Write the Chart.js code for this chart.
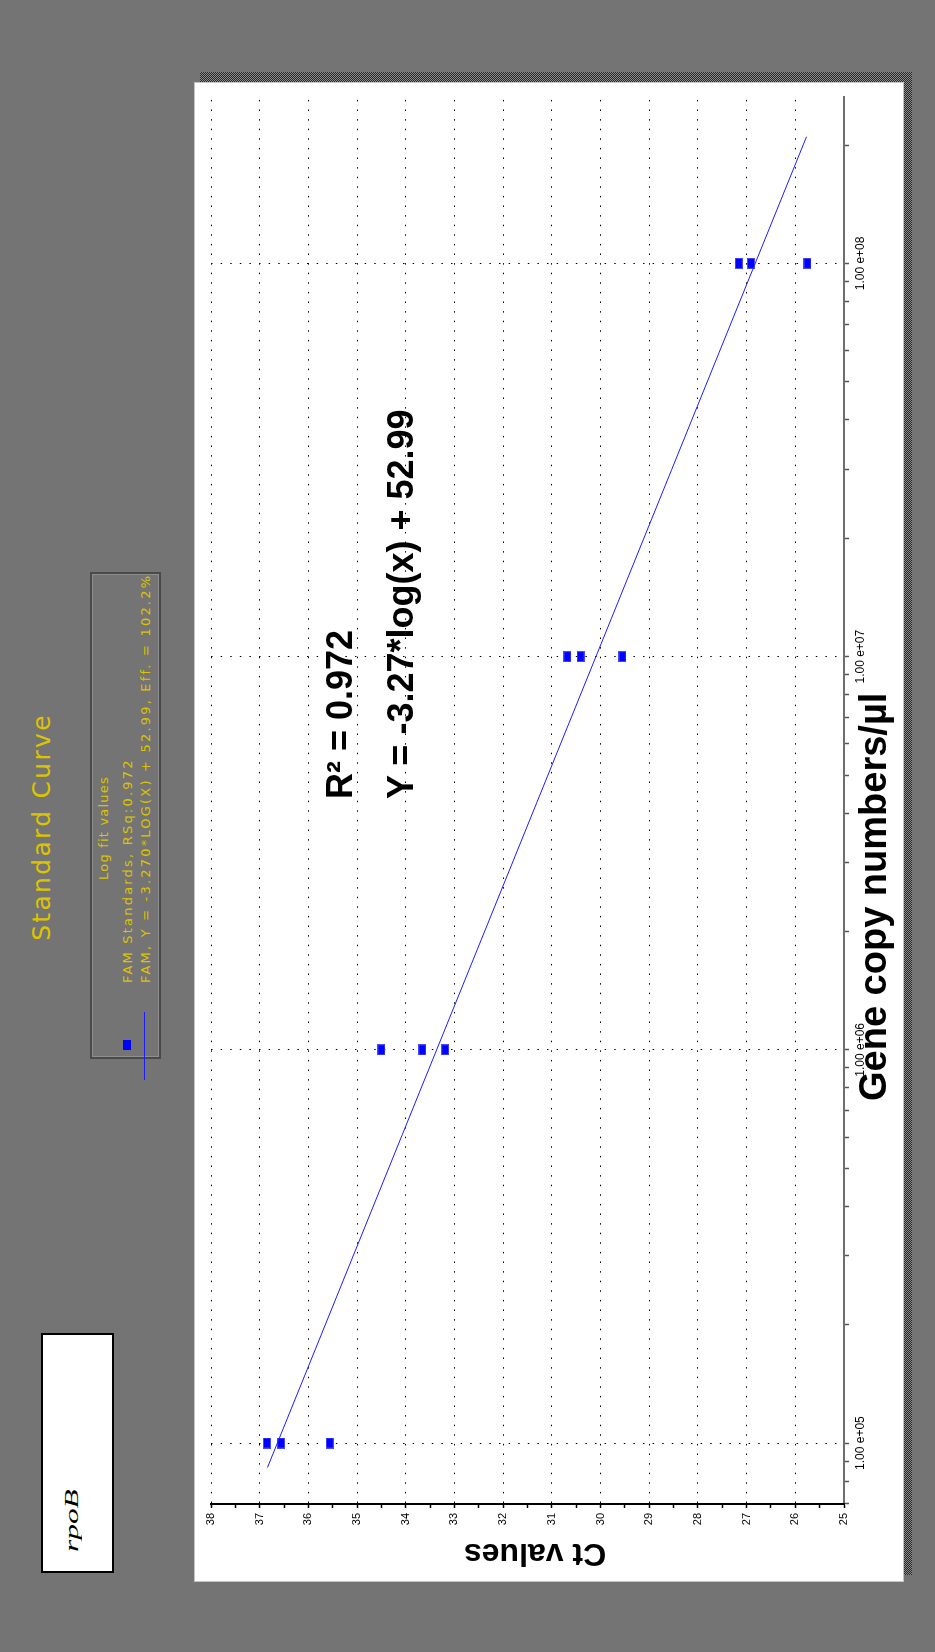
<!DOCTYPE html>
<html>
<head>
<meta charset="utf-8">
<title>Standard Curve - rpoB</title>
<script src="https://cdn.jsdelivr.net/npm/chart.js@4.4.1/dist/chart.umd.min.js"></script>
<style>
    html, body { margin: 0; padding: 0; width: 935px; height: 1652px; overflow: hidden; background: #747474; }
    /* the whole figure is laid out landscape and turned a quarter turn left */
    #stage {
        position: absolute; left: 0; top: 0; width: 1652px; height: 935px;
        transform-origin: 0 0; transform: translate(0px, 1652px) rotate(-90deg);
        background: #747474; font-family: Arial, "Liberation Sans", sans-serif;
    }
    .abs { position: absolute; white-space: nowrap; }
    #shadow { left: 77px; top: 200px; width: 1503px; height: 712px;
        background: repeating-conic-gradient(#262626 0 25%, #8c8c8c 0 50%) 0 0 / 2px 2px; }
    #panel { left: 70px; top: 194px; width: 1500px; height: 710px; background: #fff;
        box-sizing: border-box; border: 1px solid #c4c4c4; }
    #panel canvas { position: absolute; left: -1px; top: -1px; }
    #mainTitle { left: 0; top: 29px; width: 1650px; text-align: center; color: #dcc400;
        font: 25px/25px "DejaVu Sans", sans-serif; letter-spacing: 2.3px; }
    #legendBox { left: 593px; top: 90px; width: 487px; height: 71px; box-sizing: border-box;
        border: 2px solid #4a4a4a; box-shadow: inset 1px 1px 0 #8e8e8e, inset -1px -1px 0 #8e8e8e; }
    .legendText { color: #dcc400; font: 13px/13px "DejaVu Sans", sans-serif; letter-spacing: 2.2px; }
    #geneBox { left: 79px; top: 41px; width: 240px; height: 73px; box-sizing: border-box;
        background: #fff; border: 2px solid #000; }
    #geneName { left: 100px; top: 62px; font: italic 19px/19px "Liberation Serif", "Times New Roman", serif;
        color: #000; transform: scaleX(1.65); transform-origin: 0 50%; }
    .note { color: #000; font: bold 36px/36px Arial, "Liberation Sans", sans-serif; }
    #xTitle { left: 551px; top: 854px; color: #000; font: bold 38px/38px Arial, "Liberation Sans", sans-serif; }
    #yTitle { left: -53px; top: 519px; width: 300px; text-align: center; color: #000;
        font: bold 32px/32px Arial, "Liberation Sans", sans-serif; transform: rotate(-90deg); }
</style>
</head>
<body>
<div id="stage">
    <div id="mainTitle" class="abs">Standard Curve</div>

    <div id="legendBox" class="abs"></div>
    <div class="abs legendText" style="left:724px; top:97px; width:200px; text-align:center; letter-spacing:1.2px;">Log fit values</div>
    <div class="abs" style="left:602px; top:123px; width:10px; height:8px; background:#0000ff;"></div>
    <div class="abs legendText" style="left:669px; top:121px;">FAM Standards, RSq:0.972</div>
    <div class="abs" style="left:572px; top:144px; width:68px; height:1px; background:#1c1cff;"></div>
    <div class="abs legendText" style="left:669px; top:139px;">FAM, Y = -3.270*LOG(X) + 52.99, Eff. = 102.2%</div>

    <div id="geneBox" class="abs"></div>
    <div id="geneName" class="abs">rpoB</div>

    <div id="shadow" class="abs"></div>
    <div id="panel" class="abs">
        <canvas id="curveChart" width="1500" height="710" style="width:1500px;height:710px;"></canvas>
    </div>

    <div class="abs note" style="left:853px; top:322px;">R² = 0.972</div>
    <div class="abs note" style="left:853px; top:383px;">Y = -3.27*log(x) + 52.99</div>
    <div id="xTitle" class="abs">Gene copy numbers/µl</div>
    <div id="yTitle" class="abs">Ct values</div>
</div>

<script>
    // standards: copy number per µl and measured Ct (three replicates each)
    const copyNumbers = [1e5, 1e5, 1e5, 1e6, 1e6, 1e6, 1e7, 1e7, 1e7, 1e8, 1e8, 1e8];
    const ctValues = [36.85, 36.56, 35.56, 34.50, 33.66, 33.19, 30.68, 30.41, 29.55, 27.16, 26.91, 25.75];

    // log fit line end points
    const fitCopies = [8.67e4, 2.1e8];
    const fitCt = [36.84, 25.77];

    // axis ticks
    const copyTicks = [1e5, 1e6, 1e7, 1e8];
    const copyLabels = ["1.00 e+05", "1.00 e+06", "1.00 e+07", "1.00 e+08"];
    const copyMin = 7e4, copyMax = 2.65e8;
    const ctMin = 25, ctMax = 38;

    const isDecade = v => Math.abs(Math.log10(v) - Math.round(Math.log10(v))) < 1e-9;

    // minor log ticks 2..9 within every decade that touches the range
    function logTicks() {
        const out = [];
        [1e4].concat(copyTicks).forEach(d => {
            for (let k = 1; k <= 9; k++) {
                const v = k * d;
                if (v >= copyMin && v <= copyMax) out.push({ value: v });
            }
        });
        return out;
    }

    // rectangular marker like the instrument software draws
    const marker = document.createElement("canvas");
    marker.width = 11;
    marker.height = 8;
    const mctx = marker.getContext("2d");
    mctx.fillStyle = "#4a4aff";
    mctx.fillRect(0, 0, 11, 8);
    mctx.fillStyle = "#0000ff";
    mctx.fillRect(1, 1, 9, 6);

    const ctx = document.getElementById("curveChart").getContext("2d");
    new Chart(ctx, {
        type: "scatter",
        data: {
            datasets: [
                {
                    label: "FAM Standards",
                    data: copyNumbers.map((c, i) => ({ x: c, y: ctValues[i] })),
                    pointStyle: marker,
                    pointRadius: 5,
                    order: 2
                },
                {
                    label: "FAM log fit",
                    data: fitCopies.map((c, i) => ({ x: c, y: fitCt[i] })),
                    showLine: true,
                    borderColor: "#1c1cff",
                    borderWidth: 1,
                    pointRadius: 0,
                    fill: false,
                    order: 1
                }
            ]
        },
        options: {
            responsive: false,
            animation: false,
            devicePixelRatio: 1,
            layout: { padding: { left: 0, right: 15, top: 17, bottom: 0 } },
            plugins: {
                legend: { display: false },
                tooltip: { enabled: false }
            },
            scales: {
                x: {
                    type: "logarithmic",
                    position: "bottom",
                    min: copyMin,
                    max: copyMax,
                    afterBuildTicks: s => { s.ticks = logTicks(); },
                    afterFit: s => { s.height = 60; },
                    ticks: {
                        autoSkip: false,
                        maxRotation: 0,
                        minRotation: 0,
                        padding: 4,
                        color: "#000",
                        font: { family: "Arial", size: 12 },
                        callback: v => {
                            const i = copyTicks.findIndex(t => Math.abs(t - v) < 1);
                            return i >= 0 ? copyLabels[i] : "";
                        }
                    },
                    grid: {
                        color: c => (c.tick && isDecade(c.tick.value)) ? "#000" : "rgba(0,0,0,0)",
                        lineWidth: 1,
                        tickLength: 5,
                        tickColor: "#555",
                        tickWidth: 1.5
                    },
                    border: { color: "#6e6e6e", width: 2, dash: [1.5, 8.1] }
                },
                y: {
                    type: "linear",
                    min: ctMin,
                    max: ctMax,
                    afterFit: s => { s.width = 78; },
                    ticks: {
                        stepSize: 0.5,
                        autoSkip: false,
                        padding: 5,
                        color: "#000",
                        font: { family: "Arial", size: 11 },
                        callback: v => Number.isInteger(v) ? String(v) : ""
                    },
                    grid: {
                        color: c => (c.tick && Number.isInteger(c.tick.value) && c.tick.value > ctMin) ? "#000" : "rgba(0,0,0,0)",
                        lineWidth: 1,
                        tickLength: 4,
                        tickColor: "#000",
                        tickWidth: 1.5
                    },
                    border: { color: "#000", width: 2, dash: [1.5, 8.1] }
                }
            }
        }
    });
</script>
</body>
</html>
